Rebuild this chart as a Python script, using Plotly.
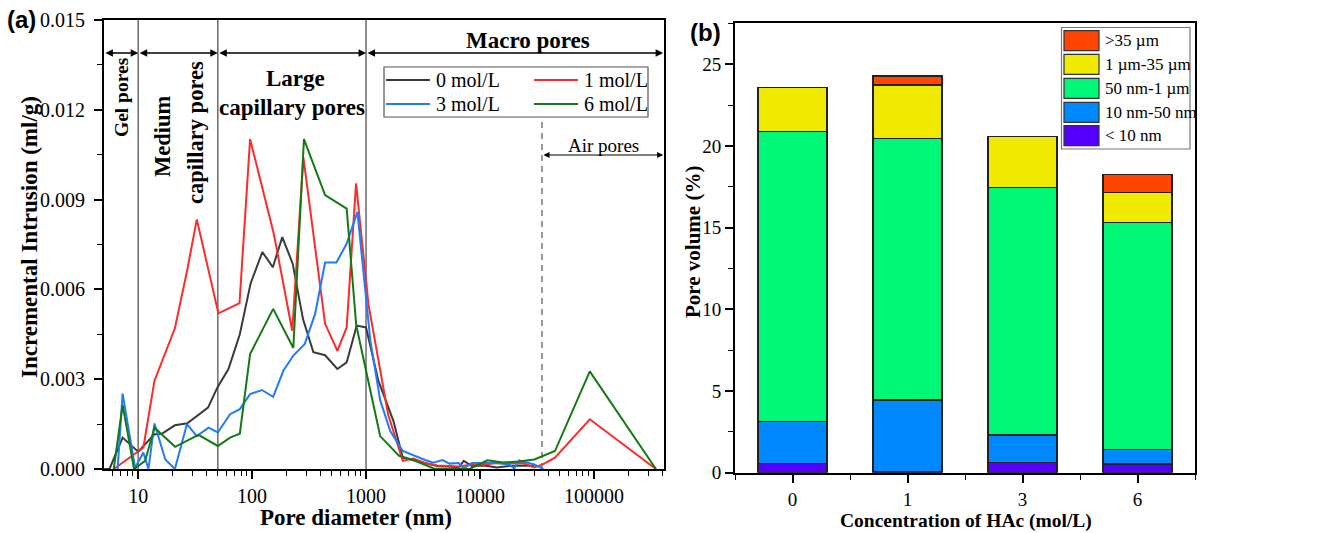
import numpy as np
import plotly.graph_objects as go

W, H = 1317, 533
def px(x): return x / W
def py(y): return 1 - y / H

SERIF = "Liberation Serif"
SANS = "Liberation Sans"

# ---------------- Panel (a) data ----------------
d_0 = [5.0, 5.6, 7.3, 10, 13.9, 16, 21, 27, 41, 50, 62, 78, 97, 123, 152, 184, 227, 280, 345, 437, 560, 676, 827, 1000,
       1282, 1740, 2100, 2600, 3300, 4200, 5400, 6500, 7200, 8500, 11000, 14000, 18000, 24000, 30000]
v_0 = [0.0, 0.0, 0.00105, 0.00058, 0.00116, 0.00117, 0.00146, 0.00153, 0.00205, 0.00275, 0.00334, 0.0045, 0.0062, 0.00725,
       0.00674, 0.00775, 0.00686, 0.0050, 0.0039, 0.0038, 0.00334, 0.00356, 0.00479, 0.00473,
       0.00295, 0.0016, 0.00038, 0.0003, 0.0002, 0.0001, 0.00008, 0.00005, 0.00027, 0.0001, 0.00012, 0.00005, 0.0001, 0.00012, 0.0001]

d_1 = [6.1, 11.1, 13.9, 21, 26.8, 32.7, 50.6, 64, 77.5, 96, 155, 225, 282, 437, 560, 676, 817, 1050, 1320, 1560, 2100,
       2600, 3300, 4200, 5400, 6500, 8500, 11000, 14000, 18000, 24000, 30000, 36000, 45500, 92000, 350000]
v_1 = [0.0, 0.00071, 0.00295, 0.0047, 0.0066, 0.00834, 0.0052, 0.0054, 0.00554, 0.01102, 0.00786, 0.00462, 0.0104, 0.00485,
       0.00395, 0.00473, 0.00954, 0.0055, 0.0034, 0.00183, 0.00027,
       0.00035, 0.0002, 0.00012, 0.0001, 0.00008, 0.00015, 0.00015, 0.0002, 0.00018, 0.0002, 0.00005, 0.00016, 0.00038, 0.00166, 0.0]

d_3 = [6.6, 7.3, 9.4, 11.1, 12.3, 13.9, 17.3, 21, 26.8, 32.7, 41.4, 50, 64, 78, 96, 122, 153, 188, 230, 290, 357, 437, 550,
       676, 840, 1090, 1330, 1630, 2100, 2600, 3300, 3900, 4700, 5400, 6500, 7200, 8500, 11000, 14000, 18000, 20000, 22000, 30000, 36000]
v_3 = [0.0, 0.00252, 0.00004, 0.00055, 0.0, 0.00152, 0.00032, 0.0, 0.0015, 0.0011, 0.00138, 0.00122, 0.00183, 0.002, 0.0025,
       0.00264, 0.00241, 0.00328, 0.00379, 0.00418, 0.00518, 0.0069, 0.0069, 0.00753, 0.00859, 0.0043, 0.0023, 0.00127, 0.0006,
       0.00045, 0.0003, 0.00021, 0.0003, 0.00018, 0.0002, 0.00002, 0.0002, 0.0002, 0.0002, 0.00015, 0.00002, 0.00029, 0.00015, 0.0]

d_6 = [6.1, 7.3, 9.2, 11.5, 13.9, 21.1, 33.8, 50, 64, 78, 96, 153, 230, 285, 437, 676, 820, 1330, 1950, 2600, 3900, 5400,
       8100, 11600, 16000, 22000, 30000, 45500, 92000, 350000]
v_6 = [0.0, 0.00214, 0.0, 0.00027, 0.00138, 0.00074, 0.00114, 0.00077, 0.00105, 0.00118, 0.00384, 0.00535, 0.00404, 0.01102,
       0.00915, 0.0087, 0.0048, 0.0011, 0.00044, 0.0003, 0.00002, 0.0, 0.0, 0.00029, 0.00022, 0.00025, 0.00032, 0.0006, 0.00326, 0.0]

series_names = ["0 mol/L", "1 mol/L", "3 mol/L", "6 mol/L"]
series_colors = ["#3a3a3a", "#ff2a2a", "#1f7bff", "#137a13"]

# region boundaries (nm)
bounds = [10, 50, 1000]
air_bound = 35000
x_ticks = [10, 100, 1000, 10000, 100000]
y_ticks = [0.0, 0.003, 0.006, 0.009, 0.012, 0.015]

# ---------------- Panel (b) data ----------------
conc = ["0", "1", "3", "6"]
lt10 = [0.55, 0.06, 0.64, 0.53]
nm10_50 = [2.57, 4.39, 1.67, 0.90]
nm50_1um = [17.77, 16.01, 15.16, 13.87]
um1_35 = [2.69, 3.27, 3.09, 1.86]
gt35 = [0.0, 0.55, 0.0, 1.10]
bar_names = ["< 10 nm", "10 nm-50 nm", "50 nm-1 µm", "1 µm-35 µm", ">35 µm"]
bar_colors = ["#5500ff", "#0088ff", "#00f878", "#f0ea00", "#ff4500"]

fig = go.Figure()

# vertical region lines
for b in bounds:
    fig.add_trace(go.Scatter(x=[b, b], y=[0, 0.015], mode="lines", line=dict(color="#6a6a6a", width=1.5),
                             showlegend=False, hoverinfo="skip", xaxis="x", yaxis="y"))
fig.add_trace(go.Scatter(x=[air_bound, air_bound], y=[0, 0.0117], mode="lines",
                         line=dict(color="#555", width=1.2, dash="6px,5px"),
                         showlegend=False, hoverinfo="skip", xaxis="x", yaxis="y"))

for d, v, nm, c in zip([d_0, d_1, d_3, d_6], [v_0, v_1, v_3, v_6], series_names, series_colors):
    fig.add_trace(go.Scatter(x=d, y=v, mode="lines", name=nm, line=dict(color=c, width=2),
                             showlegend=False, xaxis="x", yaxis="y"))

bar_data = [lt10, nm10_50, nm50_1um, um1_35, gt35]
for vals, nm, c in zip(bar_data, bar_names, bar_colors):
    fig.add_trace(go.Bar(x=[0, 1, 2, 3], y=vals, name=nm, width=0.6,
                         marker=dict(color=c, line=dict(color="#222", width=1.3)),
                         showlegend=False, xaxis="x2", yaxis="y2"))

minor_x = [m * 10 ** k for k in range(0, 6) for m in range(2, 10) if 5 <= m * 10 ** k <= 420000]

fig.update_layout(
    width=W, height=H, margin=dict(l=0, r=0, t=0, b=0),
    paper_bgcolor="white", plot_bgcolor="white",
    barmode="stack", bargap=0.4,
    font=dict(family=SERIF, size=20, color="black"),
    xaxis=dict(domain=[px(104), px(664)], type="log", range=[0.70, 5.615],
               tickvals=x_ticks, ticktext=[str(t) for t in x_ticks],
               ticks="outside", ticklen=8, tickwidth=1.5, tickcolor="black",
               minor=dict(tickvals=minor_x, ticks="outside", ticklen=5, tickwidth=1.2, tickcolor="black"),
               showline=True, linecolor="black", linewidth=2, mirror=True,
               showgrid=False, zeroline=False, automargin=False, anchor="y",
               tickfont=dict(family=SERIF, size=20)),
    yaxis=dict(domain=[py(469), py(20)], range=[0, 0.015],
               tickvals=y_ticks, ticktext=[f"{t:.3f}" for t in y_ticks],
               ticks="outside", ticklen=8, tickwidth=1.5, tickcolor="black", ticklabelstandoff=5,
               minor=dict(dtick=0.0015, tick0=0, ticks="outside", ticklen=5, tickwidth=1.2, tickcolor="black", showgrid=False),
               showline=True, linecolor="black", linewidth=2, mirror=True,
               showgrid=False, zeroline=False, automargin=False, anchor="x",
               tickfont=dict(family=SERIF, size=20)),
    xaxis2=dict(domain=[px(735), px(1195)], range=[-0.5, 3.5],
                tickvals=[0, 1, 2, 3], ticktext=conc,
                ticks="outside", ticklen=8, tickwidth=1.5, tickcolor="black",
                minor=dict(tickvals=[-0.5, 0.5, 1.5, 2.5, 3.5], ticks="outside", ticklen=5, tickwidth=1.2, tickcolor="black"),
                showline=True, linecolor="black", linewidth=2, mirror=True,
                showgrid=False, zeroline=False, automargin=False, anchor="y2",
                tickfont=dict(family=SERIF, size=19)),
    yaxis2=dict(domain=[py(472.7), py(23.3)], range=[0, 27.5],
                tickvals=[0, 5, 10, 15, 20, 25],
                ticks="outside", ticklen=8, tickwidth=1.5, tickcolor="black",
                minor=dict(dtick=2.5, tick0=0, ticks="outside", ticklen=5, tickwidth=1.2, tickcolor="black", showgrid=False),
                showline=True, linecolor="black", linewidth=2, mirror=True,
                showgrid=False, zeroline=False, automargin=False, anchor="x2",
                tickfont=dict(family=SERIF, size=19)),
)

ann = []
shapes = []

def text(x, y, s, size=20, bold=False, angle=0, family=SERIF, xanchor="center"):
    ann.append(dict(x=px(x), y=py(y), xref="paper", yref="paper", text=f"<b>{s}</b>" if bold else s,
                    showarrow=False, textangle=angle, xanchor=xanchor, yanchor="middle",
                    font=dict(family=family, size=size, color="black")))

# panel labels
text(21, 20, "(a)", size=24, bold=True, family=SANS)
text(706, 33, "(b)", size=24, bold=True, family=SANS)

# axis titles
text(29, 237, "Incremental Intrusion (ml/g)", size=23, bold=True, angle=-90)
text(356, 517, "Pore diameter (nm)", size=23, bold=True)
text(693, 242, "Pore volume (%)", size=21, bold=True, angle=-90)
text(966, 521, "Concentration of HAc (mol/L)", size=19.5, bold=True)

# region labels
text(121, 97, "Gel pores", size=19.5, bold=True, angle=-90)
text(162, 136, "Medium", size=22.5, bold=True, angle=-90)
text(196, 133, "capillary pores", size=22.5, bold=True, angle=-90)
text(295, 78, "Large", size=23, bold=True)
text(292, 107, "capillary pores", size=23, bold=True)
text(528, 40, "Macro pores", size=23, bold=True)
text(603, 145, "Air pores", size=19)

# double-headed arrows
arrow_y = 0.0139
edges = [5.0, 10, 50, 1000, 405000]
for a, b in zip(edges[:-1], edges[1:]):
    ann.append(dict(x=np.log10(b), y=arrow_y, ax=np.log10(a), ay=arrow_y, xref="x", yref="y", axref="x", ayref="y",
                    text="", showarrow=True, arrowhead=2, arrowside="end+start", arrowsize=1, arrowwidth=1.5,
                    arrowcolor="black"))
ann.append(dict(x=np.log10(405000), y=0.01049, ax=np.log10(air_bound), ay=0.01049, xref="x", yref="y",
                axref="x", ayref="y", text="", showarrow=True, arrowhead=2, arrowside="end+start",
                arrowsize=1, arrowwidth=1.2, arrowcolor="black"))

# legend (a)
shapes.append(dict(type="rect", xref="paper", yref="paper", x0=px(384), x1=px(648), y0=py(117), y1=py(67),
                   line=dict(color="#555", width=1.2), fillcolor="white"))
leg_pos = [(386, 80), (534, 80), (386, 104), (534, 104)]
for (lx, ly), nm, c in zip(leg_pos, series_names, series_colors):
    shapes.append(dict(type="line", xref="paper", yref="paper", x0=px(lx), x1=px(lx + 44), y0=py(ly), y1=py(ly),
                       line=dict(color=c, width=2)))
    text(lx + 48, ly, nm, size=20, xanchor="left")

# legend (b)
shapes.append(dict(type="rect", xref="paper", yref="paper", x0=px(1061.5), x1=px(1190), y0=py(149), y1=py(27.5),
                   line=dict(color="#777", width=1.2), fillcolor="white"))
rows = [40.7, 64.3, 88.3, 112.3, 135.7]
for ry, nm, c in zip(rows, bar_names[::-1], bar_colors[::-1]):
    shapes.append(dict(type="rect", xref="paper", yref="paper", x0=px(1064), x1=px(1099), y0=py(ry + 10), y1=py(ry - 10),
                       line=dict(color="#333", width=1.2), fillcolor=c))
    text(1103, ry, nm, size=17, xanchor="left")

fig.update_layout(annotations=ann, shapes=shapes)
fig.write_html("out.html")
